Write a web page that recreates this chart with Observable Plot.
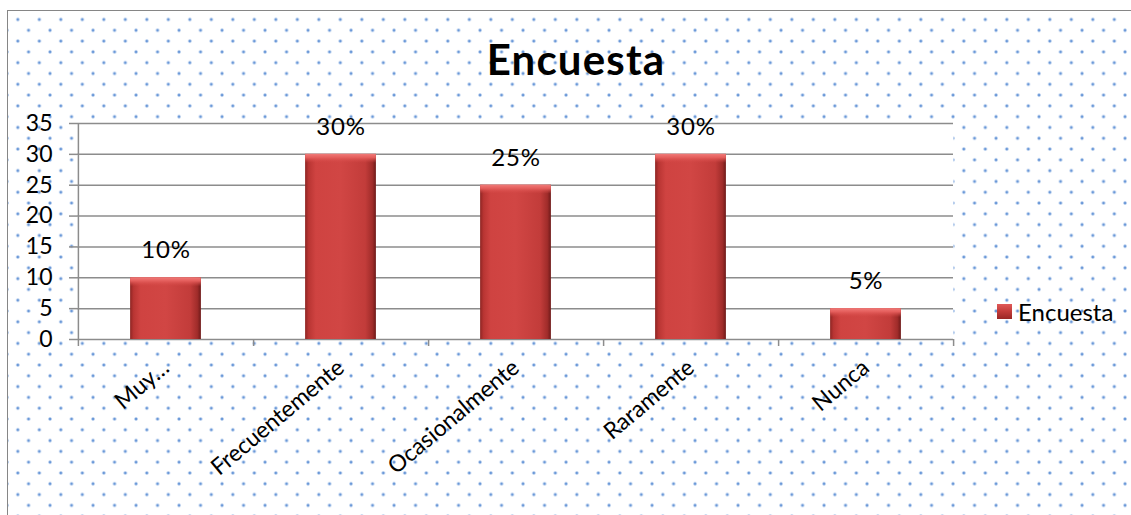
<!DOCTYPE html>
<html>
<head>
<meta charset="utf-8">
<script src="https://cdn.jsdelivr.net/npm/d3@7"></script>
<script src="https://cdn.jsdelivr.net/npm/@observablehq/plot@0.6"></script>
<style>
  html, body { margin: 0; padding: 0; background: #fff; width: 1131px; height: 515px; overflow: hidden; }
  body { position: relative; font-family: Lato, "Open Sans", sans-serif; }
  #bg {
    position: absolute; left: 7px; top: 10px; width: 1140px; height: 520px;
    border-left: 1.5px solid #868686; border-top: 1.5px solid #868686;
    background-image:
      radial-gradient(circle, #6a98d8 0, #6a98d8 0.9px, rgba(106,152,216,0.3) 1.7px, rgba(106,152,216,0) 2.2px),
      radial-gradient(circle, #6a98d8 0, #6a98d8 0.9px, rgba(106,152,216,0.3) 1.7px, rgba(106,152,216,0) 2.2px);
    background-size: 21.5px 21.6px, 21.5px 21.6px;
    background-position: -0.95px -2.3px, 9.8px 8.5px;
  }
  #chart { position: absolute; left: 0; top: 0; }
  #title {
    position: absolute; left: 0; width: 1152px; top: 38px; text-align: center;
    font-weight: bold; font-size: 42px; letter-spacing: 1.2px; color: #000; line-height: 1;
  }
  #legend { position: absolute; left: 997px; top: 297px; display: flex; align-items: center; font-size: 24px; color: #000; }
  #legend .sw { width: 15px; height: 15px; margin-right: 6px; background: linear-gradient(180deg, #e05a58 0%, #c23b39 50%, #9a2725 100%); }
  .pct text { letter-spacing: 0.8px; }
</style>
</head>
<body>
<div id="bg"></div>
<div id="chart"></div>
<div id="title">Encuesta</div>
<div id="legend"><div class="sw"></div><span>Encuesta</span></div>
<script>
const categories = ["Muy…", "Frecuentemente", "Ocasionalmente", "Raramente", "Nunca"];
const values = [10, 30, 25, 30, 5];
const labels = ["10%", "30%", "25%", "30%", "5%"];
const yTicks = [0, 5, 10, 15, 20, 25, 30, 35];
const seriesName = "Encuesta";

const data = categories.map((c, i) => ({category: c, value: values[i], label: labels[i], series: seriesName}));

const W = 1131, H = 515;
const mL = 77, mR = 178, mT = 123, mB = 176;
const band = (W - mL - mR) / categories.length;
const barW = 71;
const inset = (band - barW) / 2;
const grid = "#8c8c8c";

const plot = Plot.plot({
  width: W, height: H,
  marginLeft: mL, marginRight: mR, marginTop: mT, marginBottom: mB,
  style: {background: "transparent", fontFamily: "Lato, 'Open Sans', sans-serif", overflow: "visible"},
  x: {domain: categories, padding: 0, label: null},
  y: {domain: [0, 35], label: null},
  marks: [
    Plot.frame({fill: "white", stroke: null}),
    Plot.ruleY(yTicks, {y: d => d, stroke: grid, strokeWidth: 1.5}),
    Plot.axisY({ticks: yTicks, tickSize: 8, tickPadding: 17, fontSize: 23, stroke: grid, strokeWidth: 1.5, color: "#000", label: null}),
    Plot.barY(data, {x: "category", y: "value", fill: "url(#barGrad)", insetLeft: inset, insetRight: inset}),
    Plot.barY(data, {x: "category", y1: d => d.value, y2: d => d.value, fill: "url(#bevelGrad)", insetLeft: inset, insetRight: inset, insetBottom: -9}),
    Plot.ruleX(data, {x: "category", dx: band / 2, y1: 0, insetBottom: -7, stroke: grid, strokeWidth: 1.5}),
    Plot.ruleX([categories[0]], {x: d => d, dx: -band / 2, insetBottom: -7, stroke: grid, strokeWidth: 1.5}),
    Plot.text(data, {x: "category", y: "value", text: "label", dy: -27, fontSize: 24, fill: "#000", className: "pct"}),
    Plot.axisX({tickRotate: -40, tickSize: 0, tickPadding: 25, dx: 0, fontSize: 23, color: "#000", label: null})
  ]
});

const svg = d3.select(plot);
const defs = svg.insert("defs", ":first-child");
const g = defs.append("linearGradient").attr("id", "barGrad").attr("x1", 0).attr("x2", 1).attr("y1", 0).attr("y2", 0);
[[0, "#8e2523"], [0.05, "#b93533"], [0.15, "#cf4341"], [0.5, "#d14644"], [0.85, "#c23c3a"], [0.95, "#a02c2a"], [1, "#6e1a19"]]
  .forEach(([o, c]) => g.append("stop").attr("offset", o).attr("stop-color", c));
const b = defs.append("linearGradient").attr("id", "bevelGrad").attr("x1", 0).attr("x2", 0).attr("y1", 0).attr("y2", 1);
[[0, "#f07a78"], [0.4, "#e45e5c"], [1, "rgba(214,72,70,0)"]]
  .forEach(([o, c]) => b.append("stop").attr("offset", o).attr("stop-color", c));

document.getElementById("chart").appendChild(plot);
</script>
</body>
</html>
